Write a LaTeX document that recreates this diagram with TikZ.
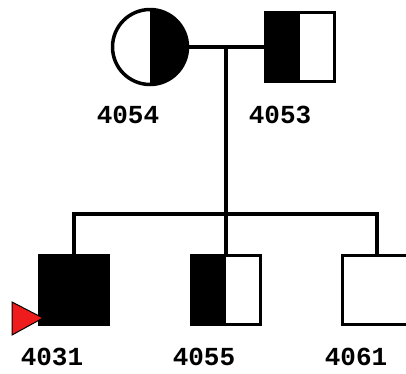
\documentclass[tikz,border=0pt]{standalone}
\usepackage{fontspec}
\setmonofont{Liberation Mono}
\usetikzlibrary{positioning}
\definecolor{probandred}{HTML}{EE1C1C}

\begin{document}
\begin{tikzpicture}[x=1pt, y=-1pt, line width=3.5pt,
    every node/.style={inner sep=0pt},
    female/.style={circle, draw, minimum size=75pt},
    male/.style={rectangle, draw, minimum size=69pt},
    affected/.style={fill=black},
    halfleft/.style={path picture={\fill (path picture bounding box.north) rectangle (path picture bounding box.south west);}},
    halfright/.style={path picture={\fill (path picture bounding box.north) rectangle (path picture bounding box.south east);}},
    pid/.style={font=\ttfamily\bfseries\fontsize{26}{26}\selectfont}]
    \useasboundingbox (0,0) rectangle (406,373);

    % parents
    \node[female, halfright] at (150, 47)(p4054){};
    \node[male, halfleft] at (300, 47)(p4053){};
    % children
    \node[male, affected] at (74, 290)(p4031){};
    \node[male, halfleft] at (226, 290)(p4055){};
    \node[male] at (377, 290)(p4061){};

    \coordinate (mate) at (226, 47);
    \coordinate (sib) at (226, 214);

    \path[draw]
        (p4054)--(p4053)
        (mate)--(p4055.north)
        (p4031.north)|-(sib)-|(p4061.north)
        ;

    % proband
    \draw[line width=1pt, fill=probandred] (12, 302)--(43, 318)--(12, 335)--cycle;

    % ids
    \node[pid] at (128, 115)(l4054){4054};
    \node[pid] at (280, 115)(l4053){4053};
    \node[pid] at (52, 357)(l4031){4031};
    \node[pid] at (204, 357)(l4055){4055};
    \node[pid] at (356, 357)(l4061){4061};
\end{tikzpicture}
\end{document}
